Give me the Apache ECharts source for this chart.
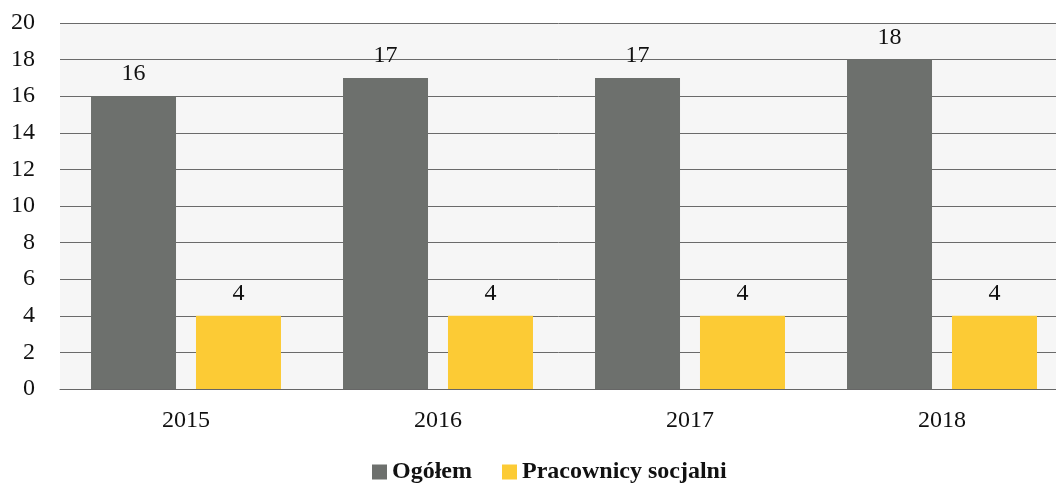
<!DOCTYPE html>
<html>
<head>
<meta charset="utf-8">
<script src="https://cdn.jsdelivr.net/npm/echarts@6/dist/echarts.min.js"></script>
<style>
  html, body { margin: 0; padding: 0; background: #fff; }
  #chart { width: 1056px; height: 485px; }
</style>
</head>
<body>
<div id="chart"></div>
<script>
const years = ['2015', '2016', '2017', '2018'];
const ogolem = [16, 17, 17, 18];
const pracownicy = [4, 4, 4, 4];
const seriesNames = ['Ogółem', 'Pracownicy socjalni'];

const font = '"Liberation Serif", "DejaVu Serif", serif';

const myChart = echarts.init(document.getElementById('chart'));

const option = {
  animation: false,
  textStyle: { fontFamily: font },
  legend: {
    data: seriesNames,
    top: 455,
    left: 367,
    itemWidth: 15,
    itemHeight: 15,
    itemGap: 30,
    icon: 'rect',
    textStyle: { fontFamily: font, fontSize: 24, color: '#111', fontWeight: 'bold' }
  },
  grid: {
    left: 60,
    width: 1008,
    top: 23,
    bottom: 96,
    outerBoundsMode: 'none',
    backgroundColor: '#f6f6f6',
    show: true,
    borderWidth: 0
  },
  xAxis: {
    type: 'category',
    data: years,
    axisLine: { show: true, lineStyle: { color: '#666', width: 1 } },
    axisTick: { show: false },
    axisLabel: { fontFamily: font, fontSize: 24, color: '#111', margin: 20 }
  },
  yAxis: {
    type: 'value',
    min: 0,
    max: 20,
    interval: 2,
    axisLine: { show: false },
    axisTick: { show: false },
    axisLabel: { fontFamily: font, fontSize: 24, color: '#111', margin: 25 },
    splitLine: { lineStyle: { color: '#6a6a6a', width: 1 } }
  },
  series: [
    {
      name: seriesNames[0],
      type: 'bar',
      data: ogolem,
      barWidth: 85,
      barGap: '23.5%',
      itemStyle: { color: '#6d706d' },
      label: { show: true, position: 'top', distance: 10, fontFamily: font, fontSize: 24, color: '#111' }
    },
    {
      name: seriesNames[1],
      type: 'bar',
      data: pracownicy,
      barWidth: 85,
      itemStyle: { color: '#fccb35' },
      label: { show: true, position: 'top', distance: 10, fontFamily: font, fontSize: 24, color: '#111' }
    }
  ]
};
myChart.setOption(option);
</script>
</body>
</html>
